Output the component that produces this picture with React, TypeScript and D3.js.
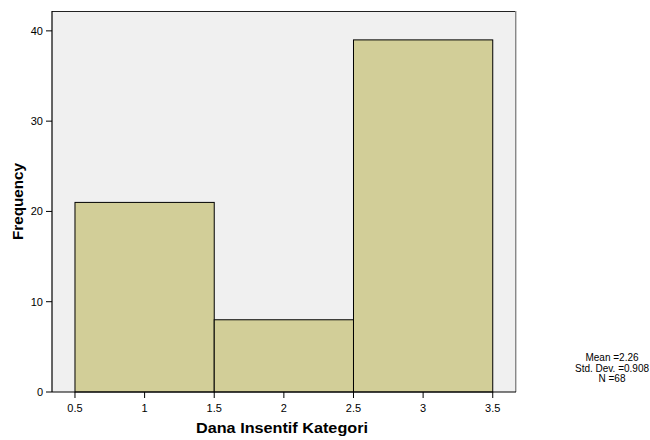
import React from "react";
import * as d3 from "d3";

const binStarts = [0.5, 1.5, 2.5];
const binEnds = [1.5, 2.5, 3.5];
const frequencies = [21, 8, 39];
const xTicks = [0.5, 1, 1.5, 2, 2.5, 3, 3.5];
const yTicks = [0, 10, 20, 30, 40];
const statsLines = ["Mean =2.26", "Std. Dev. =0.908", "N =68"];

const W = 650, H = 440;
const left = 52, right = 516, top = 11, bottom = 392;

export default function App() {
  const x = d3.scaleLinear().domain([0.335, 3.667]).range([left, right]);
  const y = d3.scaleLinear().domain([0, 42.2]).range([bottom, top]);
  const font = "Arial, 'Liberation Sans', sans-serif";
  return (
    <svg width={W} height={H} style={{ position: "absolute", left: 0, top: 0 }} fontFamily={font}>
      <rect x={0} y={0} width={W} height={H} fill="#ffffff" />
      <rect x={left} y={top} width={right - left} height={bottom - top} fill="#f0f0f0" />
      {/* frame */}
      <line x1={left} y1={top + 0.5} x2={right} y2={top + 0.5} stroke="#222" strokeWidth={1} />
      <line x1={right - 0.5} y1={top} x2={right - 0.5} y2={bottom} stroke="#888" strokeWidth={1} />
      <line x1={right + 0.5} y1={top} x2={right + 0.5} y2={bottom} stroke="#ccc" strokeWidth={1} />
      {frequencies.map((f, i) => (
        <rect
          key={i}
          x={x(binStarts[i])}
          y={y(f)}
          width={x(binEnds[i]) - x(binStarts[i])}
          height={bottom - y(f)}
          fill="#d2ce98"
          stroke="#000"
          strokeWidth={1}
        />
      ))}
      <line x1={left} y1={bottom} x2={right} y2={bottom} stroke="#000" strokeWidth={1.2} />
      <line x1={left} y1={top} x2={left} y2={bottom} stroke="#000" strokeWidth={1.2} />
      {yTicks.map((t) => (
        <g key={t}>
          <line x1={left - 6} x2={left} y1={y(t)} y2={y(t)} stroke="#000" />
          <text x={left - 9} y={y(t)} dy="0.35em" textAnchor="end" fontSize={11} fill="#000">{t}</text>
        </g>
      ))}
      {xTicks.map((t) => (
        <g key={t}>
          <line x1={x(t)} x2={x(t)} y1={bottom} y2={bottom + 6} stroke="#000" />
          <text x={x(t)} y={bottom + 20} textAnchor="middle" fontSize={11} fill="#000">{t}</text>
        </g>
      ))}
      <text x={282} y={432.5} textAnchor="middle" fontSize={14} fontWeight="bold" fill="#000" textLength={172} lengthAdjust="spacingAndGlyphs">Dana Insentif Kategori</text>
      <text transform={`translate(23,201.5) rotate(-90)`} textAnchor="middle" fontSize={14} fontWeight="bold" fill="#000" textLength={77} lengthAdjust="spacingAndGlyphs">Frequency</text>
      {statsLines.map((s, i) => (
        <text key={i} x={612} y={361 + i * 10.5} textAnchor="middle" fontSize={10} fill="#000">{s}</text>
      ))}
    </svg>
  );
}
